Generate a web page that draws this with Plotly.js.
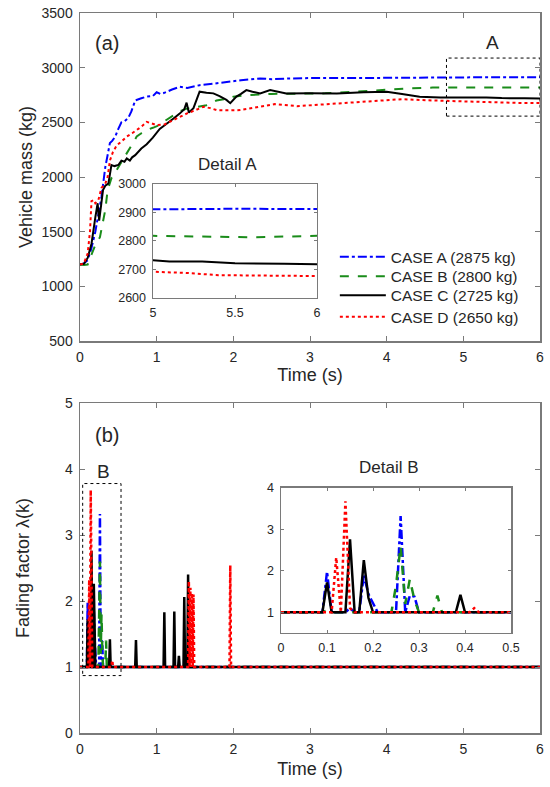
<!DOCTYPE html>
<html>
<head>
<meta charset="utf-8">
<script src="https://cdn.plot.ly/plotly-3.0.1.min.js"></script>
<style>
html,body{margin:0;padding:0;background:#fff;}
#chart{width:550px;height:787px;}
</style>
</head>
<body>
<div id="chart"></div>
<script>
// ---------- Data: vehicle mass estimates ----------
const caseNames = ['CASE A (2875 kg)', 'CASE B (2800 kg)', 'CASE C (2725 kg)', 'CASE D (2650 kg)'];

const tA = [0, 0.05, 0.1, 0.15, 0.2, 0.25, 0.28, 0.33, 0.36, 0.39, 0.42, 0.46, 0.5, 0.54, 0.58, 0.63, 0.67, 0.72, 0.8, 0.87, 0.95, 1.0, 1.05, 1.1, 1.2, 1.3, 1.4, 1.56, 1.7, 1.9, 2.1, 2.35, 2.5, 2.7, 3.0, 3.5, 4.0, 4.5, 5.0, 5.5, 6.0];
const mA = [1200, 1210, 1240, 1350, 1500, 1680, 1820, 2090, 2200, 2310, 2330, 2370, 2440, 2500, 2510, 2540, 2600, 2700, 2720, 2735, 2740, 2775, 2760, 2770, 2800, 2825, 2815, 2840, 2850, 2870, 2885, 2902, 2895, 2900, 2905, 2905, 2908, 2910, 2911, 2913, 2912];

const tB = [0, 0.05, 0.1, 0.15, 0.2, 0.26, 0.3, 0.33, 0.36, 0.41, 0.45, 0.5, 0.55, 0.61, 0.67, 0.74, 0.8, 0.87, 0.95, 1.04, 1.1, 1.22, 1.3, 1.39, 1.5, 1.65, 1.78, 1.9, 2.0, 2.2, 2.5, 2.8, 3.2, 3.6, 4.0, 4.3, 4.6, 5.0, 5.3, 5.6, 6.0];
const mB = [1200, 1195, 1200, 1300, 1380, 1450, 1600, 1700, 1880, 1990, 2030, 2090, 2150, 2215, 2290, 2370, 2400, 2430, 2450, 2475, 2510, 2565, 2600, 2625, 2640, 2657, 2700, 2715, 2735, 2750, 2760, 2762, 2765, 2780, 2800, 2812, 2818, 2818, 2816, 2813, 2818];

const tC = [0, 0.05, 0.1, 0.15, 0.2, 0.23, 0.25, 0.27, 0.3, 0.33, 0.37, 0.41, 0.45, 0.5, 0.54, 0.58, 0.61, 0.65, 0.68, 0.72, 0.8, 0.87, 0.95, 1.04, 1.12, 1.22, 1.3, 1.36, 1.39, 1.42, 1.48, 1.52, 1.56, 1.65, 1.74, 1.82, 1.91, 1.96, 2.04, 2.1, 2.17, 2.25, 2.35, 2.48, 2.6, 2.69, 3.0, 3.35, 3.7, 4.0, 4.2, 4.43, 4.7, 5.0, 5.1, 5.3, 5.5, 5.8, 6.0];
const mC = [1200, 1205, 1260, 1390, 1630, 1760, 1600, 1730, 1880, 1920, 1940, 2110, 2100, 2110, 2150, 2140, 2170, 2150, 2180, 2200, 2260, 2300, 2360, 2440, 2480, 2535, 2580, 2620, 2680, 2590, 2630, 2700, 2780, 2770, 2765, 2740, 2705, 2675, 2735, 2760, 2795, 2780, 2765, 2795, 2775, 2764, 2765, 2764, 2775, 2779, 2760, 2735, 2728, 2732, 2728, 2728, 2722, 2720, 2718];

const tD = [0, 0.05, 0.1, 0.13, 0.15, 0.18, 0.2, 0.24, 0.28, 0.33, 0.36, 0.39, 0.43, 0.48, 0.55, 0.61, 0.68, 0.74, 0.8, 0.87, 0.95, 1.0, 1.1, 1.17, 1.3, 1.39, 1.5, 1.61, 1.7, 1.78, 1.9, 2.09, 2.2, 2.35, 2.54, 2.83, 3.2, 3.56, 4.0, 4.2, 4.6, 5.0, 5.2, 5.4, 5.7, 6.0];
const mD = [1200, 1210, 1300, 1500, 1780, 1790, 1760, 1790, 1900, 1940, 2000, 2150, 2230, 2290, 2330, 2370, 2400, 2430, 2460, 2504, 2490, 2475, 2480, 2504, 2550, 2580, 2610, 2642, 2630, 2612, 2610, 2612, 2625, 2642, 2667, 2648, 2665, 2688, 2705, 2712, 2700, 2693, 2688, 2680, 2678, 2677];

// ---------- Data: fading factor ----------
const lamTA = [0, 0.09, 0.10, 0.11, 0.14, 0.15, 0.16, 0.17, 0.18, 0.19, 0.21, 0.25, 0.26, 0.27, 0.28, 0.29, 0.30, 6];
const lamA  = [1, 1, 1.98, 1, 1, 1.1, 1, 1, 1.9, 1.44, 1, 1, 3.32, 1, 1.4, 1.38, 1, 1];

const lamTB = [0, 0.09, 0.10, 0.11, 0.24, 0.25, 0.26, 0.27, 0.28, 0.29, 0.30, 0.33, 0.34, 0.35, 6];
const lamB  = [1, 1, 1.05, 1, 1, 1.65, 2.6, 1.2, 1.8, 1.3, 1, 1, 1.4, 1, 1];

const lamTC = [0, 0.09, 0.10, 0.11, 0.14, 0.15, 0.16, 0.17, 0.18, 0.19, 0.20, 0.38, 0.39, 0.40, 0.72, 0.73, 0.74, 1.09, 1.10, 1.11, 1.22, 1.23, 1.24, 1.28, 1.29, 1.30, 1.35, 1.36, 1.37, 1.40, 1.41, 1.42, 6];
const lamC  = [1, 1, 1.72, 1, 1, 2.76, 1, 1, 2.26, 1.35, 1, 1, 1.42, 1, 1, 1.41, 1, 1, 1.83, 1, 1, 1.84, 1, 1, 1.17, 1, 1, 2.06, 1, 1, 2.40, 1, 1];

const lamTD = [0, 0.11, 0.12, 0.13, 0.14, 0.15, 0.16, 0.41, 0.42, 0.43, 1.41, 1.42, 1.43, 1.44, 1.45, 1.46, 1.47, 1.48, 1.49, 1.95, 1.96, 1.97, 6];
const lamD  = [1, 1, 2.32, 1, 3.68, 1.1, 1, 1, 1.1, 1, 1, 2.3, 1, 2.2, 1, 2.12, 1, 2.1, 1, 1, 2.54, 1, 1];

// ---------- Styling ----------
const FONT = 'Liberation Sans, Arial, sans-serif';
const TXT = '#262626';
const AX = '#7a7a7a';
const colors = ['#0000ff', '#1a8c1a', '#000000', '#ff0000'];
const dashes = ['dashdot', 'dash', 'solid', 'dot'];
const legendIds = ['legend', 'legend2', 'legend3', 'legend4'];

const massT = [tA, tB, tC, tD];
const massV = [mA, mB, mC, mD];
const lamT = [lamTA, lamTB, lamTC, lamTD];
const lamV = [lamA, lamB, lamC, lamD];

const traces = [];
for (let i = 0; i < 4; i++) {
  traces.push({x: massT[i], y: massV[i], type: 'scatter', mode: 'lines', name: caseNames[i],
    xaxis: 'x', yaxis: 'y', legend: legendIds[i], showlegend: true,
    line: {color: colors[i], dash: dashes[i], width: 2}});
}
for (let i = 0; i < 4; i++) {
  traces.push({x: massT[i], y: massV[i], type: 'scatter', mode: 'lines', name: caseNames[i],
    xaxis: 'x3', yaxis: 'y3', showlegend: false,
    line: {color: colors[i], dash: dashes[i], width: 2}});
}
for (let i = 0; i < 4; i++) {
  traces.push({x: lamT[i], y: lamV[i], type: 'scatter', mode: 'lines', name: caseNames[i],
    xaxis: 'x2', yaxis: 'y2', showlegend: false,
    line: {color: colors[i], dash: dashes[i], width: 2.5}});
}
for (let i = 0; i < 4; i++) {
  traces.push({x: lamT[i], y: lamV[i], type: 'scatter', mode: 'lines', name: caseNames[i],
    xaxis: 'x4', yaxis: 'y4', showlegend: false,
    line: {color: colors[i], dash: dashes[i], width: 2.5}});
}

function ax(extra) {
  return Object.assign({
    showline: true, mirror: 'ticks', ticks: 'inside', ticklen: 5, tickwidth: 1,
    tickcolor: AX, linecolor: AX, linewidth: 1.5, showgrid: false, zeroline: false,
    tickfont: {family: FONT, size: 14, color: TXT}, ticklabelstandoff: 3, fixedrange: true
  }, extra);
}
const titleFont = {family: FONT, size: 18, color: TXT};

const legendRowsY = [0.6607, 0.6338, 0.6074, 0.5774];
function leg(i) {
  return {x: 0.554, y: legendRowsY[i], xanchor: 'left', yanchor: 'middle',
    bgcolor: 'rgba(0,0,0,0)', borderwidth: 0, itemwidth: 46,
    font: {family: FONT, size: 15.5, color: TXT}, tracegroupgap: 0};
}

const layout = {
  width: 550, height: 787,
  margin: {l: 80, r: 10, t: 13, b: 54},
  paper_bgcolor: '#fff', plot_bgcolor: '#fff',
  font: {family: FONT, color: TXT},
  hovermode: false,
  legend: leg(0), legend2: leg(1), legend3: leg(2), legend4: leg(3),
  xaxis: ax({domain: [0, 1], anchor: 'y', range: [0, 6], dtick: 1, tick0: 0,
    title: {text: 'Time (s)', font: titleFont, standoff: 3}}),
  yaxis: ax({domain: [0.5444, 1], anchor: 'x', range: [500, 3500], dtick: 500, tick0: 500,
    title: {text: 'Vehicle mass (kg)', font: titleFont, standoff: 4}}),
  xaxis2: ax({domain: [0, 1], anchor: 'y2', range: [0, 6], dtick: 1, tick0: 0,
    title: {text: 'Time (s)', font: titleFont, standoff: 6}}),
  yaxis2: ax({domain: [0, 0.4583], anchor: 'x2', range: [0, 5], dtick: 1, tick0: 0,
    title: {text: 'Fading factor λ(k)', font: titleFont, standoff: 30}}),
  xaxis3: ax({domain: [0.1587, 0.5152], anchor: 'y3', range: [5, 6], dtick: 0.5, tick0: 5,
    tickfont: {family: FONT, size: 12.5, color: TXT}, ticklen: 3}),
  yaxis3: ax({domain: [0.6042, 0.7625], anchor: 'x3', range: [2600, 3000], dtick: 100, tick0: 2600,
    tickfont: {family: FONT, size: 12.5, color: TXT}, ticklen: 3}),
  xaxis4: ax({domain: [0.437, 0.937], anchor: 'y4', range: [0, 0.5], dtick: 0.1, tick0: 0,
    tickfont: {family: FONT, size: 12.5, color: TXT}, ticklen: 3}),
  yaxis4: ax({domain: [0.1389, 0.3403], anchor: 'x4', range: [0.5, 4], dtick: 1, tick0: 1,
    tickfont: {family: FONT, size: 12.5, color: TXT}, ticklen: 3}),
  shapes: [
    {type: 'rect', xref: 'x', yref: 'y', x0: 4.78, x1: 6, y0: 2557, y1: 3088,
      line: {color: '#000', width: 1, dash: 'dot'}},
    {type: 'rect', xref: 'x2', yref: 'y2', x0: 0.035, x1: 0.535, y0: 0.87, y1: 3.78,
      line: {color: '#000', width: 1, dash: 'dot'}}
  ],
  annotations: [
    {text: '(a)', xref: 'paper', yref: 'paper', x: 0.0587, y: 0.9583, showarrow: false,
      font: {family: FONT, size: 20, color: TXT}, xanchor: 'center', yanchor: 'middle'},
    {text: 'A', xref: 'paper', yref: 'paper', x: 0.8978, y: 0.9597, showarrow: false,
      font: {family: FONT, size: 19, color: TXT}, xanchor: 'center', yanchor: 'middle'},
    {text: 'Detail A', xref: 'paper', yref: 'paper', x: 0.3217, y: 0.7889, showarrow: false,
      font: {family: FONT, size: 17, color: TXT}, xanchor: 'center', yanchor: 'middle'},
    {text: '(b)', xref: 'paper', yref: 'paper', x: 0.0587, y: 0.4139, showarrow: false,
      font: {family: FONT, size: 20, color: TXT}, xanchor: 'center', yanchor: 'middle'},
    {text: 'B', xref: 'paper', yref: 'paper', x: 0.05, y: 0.3625, showarrow: false,
      font: {family: FONT, size: 19, color: TXT}, xanchor: 'center', yanchor: 'middle'},
    {text: 'Detail B', xref: 'paper', yref: 'paper', x: 0.6717, y: 0.3694, showarrow: false,
      font: {family: FONT, size: 17, color: TXT}, xanchor: 'center', yanchor: 'middle'}
  ]
};

Plotly.newPlot('chart', traces, layout, {displayModeBar: false, staticPlot: true});
</script>
</body>
</html>
